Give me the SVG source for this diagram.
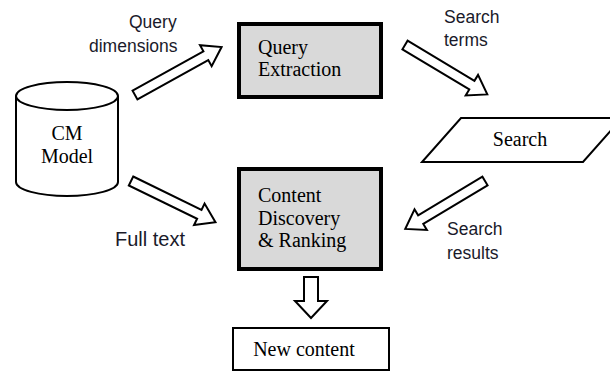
<svg xmlns="http://www.w3.org/2000/svg" width="610" height="372" viewBox="0 0 610 372">
<style>
.box{fill:#d9d9d9;stroke:#000;stroke-width:4}
.plain{fill:#fff;stroke:#000;stroke-width:2}
.arr{fill:#fff;stroke:#000;stroke-width:2;stroke-linejoin:miter}
.serif{font-family:"Liberation Serif","Times New Roman",serif;font-size:20px;fill:#000}
.lbl{font-family:"Liberation Sans",Arial,sans-serif;font-size:17.5px;fill:#1a1a2a}
</style>
<rect width="610" height="372" fill="#fff"/>
<g id="cm-model">
<path class="plain" d="M16,96 L16,182 A51,14 0 0 0 118,182 L118,96"/>
<ellipse class="plain" cx="67" cy="96" rx="51" ry="14"/>
<text class="serif" x="67" y="140" text-anchor="middle">CM</text>
<text class="serif" x="67" y="163" text-anchor="middle">Model</text>
</g>
<g id="query-extraction">
<rect class="box" x="239" y="24" width="142" height="73"/>
<text class="serif" x="258" y="54">Query</text>
<text class="serif" x="258" y="76">Extraction</text>
</g>
<g id="content-discovery">
<rect class="box" x="239" y="169" width="142" height="100"/>
<text class="serif" x="258" y="202">Content</text>
<text class="serif" x="258" y="225">Discovery</text>
<text class="serif" x="258" y="247">&amp; Ranking</text>
</g>
<g id="search">
<polygon class="plain" points="461,118 622,118 583,162 422,162"/>
<text class="serif" x="520" y="146" text-anchor="middle">Search</text>
</g>
<g id="new-content">
<rect class="plain" x="233" y="328" width="156" height="42"/>
<text class="serif" x="304" y="356" text-anchor="middle">New content</text>
</g>
<g id="connectors">
<polygon class="arr" transform="translate(135,95) rotate(-29)" points="0,-5 81,-5 81,-12 99,0 81,12 81,5 0,5"/>
<polygon class="arr" transform="translate(131,181) rotate(26)" points="0,-5 76,-5 76,-12 94,0 76,12 76,5 0,5"/>
<polygon class="arr" transform="translate(405,45) rotate(31)" points="0,-5 78,-5 78,-12 96,0 78,12 78,5 0,5"/>
<polygon class="arr" transform="translate(485,181) rotate(149)" points="0,-5 75,-5 75,-12 93,0 75,12 75,5 0,5"/>
<polygon class="arr" points="304,277 318,277 318,301 327,301 311,318 295,301 304,301"/>
</g>
<g id="labels">
<text class="lbl" x="129" y="28">Query</text>
<text class="lbl" x="89" y="52">dimensions</text>
<text class="lbl" x="444" y="23">Search</text>
<text class="lbl" x="444" y="46">terms</text>
<text class="lbl" x="115" y="246" style="font-size:20px">Full text</text>
<text class="lbl" x="447" y="235">Search</text>
<text class="lbl" x="447" y="259">results</text>
</g>
</svg>
